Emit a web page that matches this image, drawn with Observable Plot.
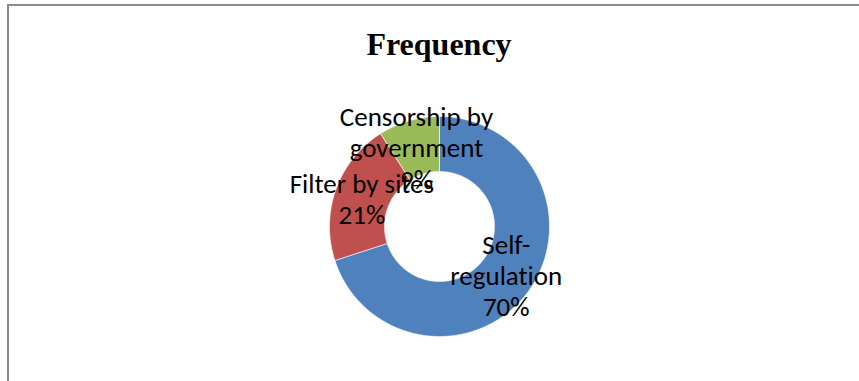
<!DOCTYPE html>
<html><head><meta charset="utf-8">
<script src="https://cdn.jsdelivr.net/npm/d3@7"></script>
<script src="https://cdn.jsdelivr.net/npm/@observablehq/plot@0.6"></script>
<style>
html,body{margin:0;padding:0;background:#fff;overflow:hidden;}
#wrap{position:relative;width:859px;height:381px;overflow:hidden;}
#frame{position:absolute;left:7px;top:4px;width:900px;height:420px;border-top:2px solid #8c8c8c;border-left:2px solid #8c8c8c;box-sizing:border-box;}
#title{position:absolute;left:0;top:28px;width:878px;text-align:center;font-family:"Liberation Serif","Times New Roman",serif;font-weight:bold;font-size:32px;line-height:32px;color:#000;}
#chart{position:absolute;left:0;top:0;}
#chart svg text{font-variant-ligatures:none;font-feature-settings:"liga" 0;}
</style>
</head><body>
<div id="wrap"><div id="frame"></div><div id="chart"></div><div id="title">Frequency</div></div>
<script>
const categories = ["Self-regulation", "Filter by sites", "Censorship by government"];
const displayLabels = ["Self-\nregulation", "Filter by sites", "Censorship by\ngovernment"];
const values = [70, 21, 9];
const colors = ["#4F81BD", "#C0504D", "#9BBB59"];
const innerRatio = 0.5;

const total = d3.sum(values);
const slices = [];
const labels = [];
let acc = 0;
values.forEach((v, i) => {
  const a0 = acc / total * 2 * Math.PI;
  acc += v;
  const a1 = acc / total * 2 * Math.PI;
  const n = Math.max(2, Math.ceil((a1 - a0) / (Math.PI / 180)));
  const pts = [];
  for (let k = 0; k <= n; k++) {
    const a = a0 + (a1 - a0) * k / n;
    pts.push({cat: categories[i], x: Math.sin(a), y: Math.cos(a)});
  }
  for (let k = n; k >= 0; k--) {
    const a = a0 + (a1 - a0) * k / n;
    pts.push({cat: categories[i], x: innerRatio * Math.sin(a), y: innerRatio * Math.cos(a)});
  }
  pts.push({...pts[0]});
  slices.push(...pts);
  const am = (a0 + a1) / 2, rm = (1 + innerRatio) / 2;
  labels.push({cat: categories[i], x: rm * Math.sin(am), y: rm * Math.cos(am),
    text: displayLabels[i] + "\n" + Math.round(v / total * 100) + "%"});
});

const R = 110, cx = 439, cy = 226, W = 859, H = 381;
const plot = Plot.plot({
  width: W, height: H,
  marginLeft: cx - R, marginRight: W - cx - R,
  marginTop: cy - R, marginBottom: H - cy - R,
  x: {domain: [-1, 1], axis: null},
  y: {domain: [-1, 1], axis: null},
  color: {domain: categories, range: colors},
  style: {background: "transparent"},
  marks: [
    Plot.line(slices, {x: "x", y: "y", z: "cat", fill: "cat", stroke: "white", strokeWidth: 0.6, curve: "linear"}),
    Plot.text(labels, {x: "x", y: "y", text: "text", fontSize: 27, lineHeight: 1.16, lineAnchor: "middle",
      fill: "black", fontFamily: "Carlito, Lato, 'Open Sans', sans-serif"})
  ]
});
document.getElementById("chart").appendChild(plot);
</script>
</body></html>
